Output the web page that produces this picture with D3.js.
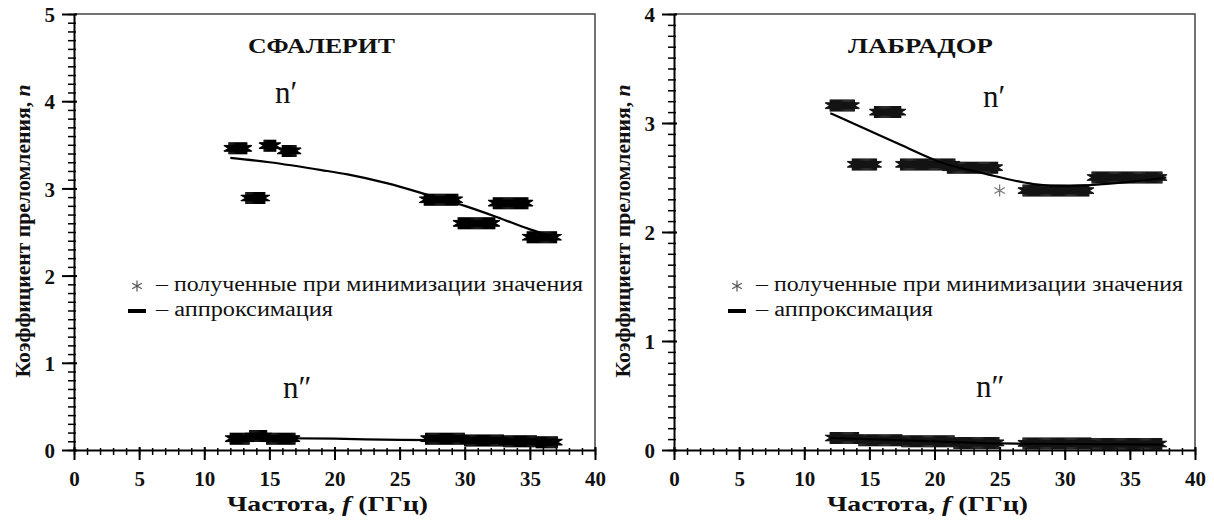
<!DOCTYPE html>
<html lang="ru">
<head>
<meta charset="UTF-8">
<script src="https://d3js.org/d3.v7.min.js"></script>
<style>
  body { margin: 0; background: #fff; }
  svg text { font-family: "Liberation Serif", "Times New Roman", serif; fill: #111; }
</style>
</head>
<body>
<div id="chart_area"></div>
<script>
// bands of minimisation results: [f start, f end, n] (GHz)
var sphRealBands = [[11.9, 13.3, 3.46], [13.2, 14.7, 2.89], [14.6, 15.5, 3.49], [16.0, 17.1, 3.43],
                    [26.9, 29.5, 2.87], [29.5, 32.3, 2.60], [32.2, 34.9, 2.83], [34.8, 37.1, 2.44]];
var sphImagBands = [[12.0, 13.5, 0.13], [13.5, 14.8, 0.16], [14.8, 17.0, 0.13],
                    [27.0, 30.0, 0.13], [30.0, 33.0, 0.11], [33.0, 35.5, 0.10], [35.5, 37.1, 0.09]];
var sphRealFitF = [12, 15, 19, 21, 24, 27.5, 30, 32.5, 35, 37];
var sphRealFitN = [3.35, 3.30, 3.21, 3.16, 3.06, 2.91, 2.80, 2.67, 2.53, 2.44];
var sphImagFitF = [12, 20, 25, 30, 37];
var sphImagFitN = [0.14, 0.13, 0.115, 0.11, 0.09];

var labRealBands = [[12.0, 13.9, 3.16], [13.7, 15.6, 2.62], [15.4, 17.4, 3.10], [17.4, 21.6, 2.62],
                    [21.0, 24.9, 2.59], [26.8, 31.9, 2.38], [32.1, 37.5, 2.50]];
var labRealSingle = [[25.0, 2.38]];
var labImagBands = [[12.0, 14.2, 0.11], [14.2, 17.5, 0.09], [17.5, 21.5, 0.08], [21.5, 25.0, 0.065],
                    [26.8, 32.0, 0.06], [32.0, 37.5, 0.055]];
var labRealFitF = [12, 14.8, 17.4, 20.7, 23.7, 27.6, 30.2, 31.9, 35, 37.8];
var labRealFitN = [3.09, 2.94, 2.80, 2.63, 2.54, 2.44, 2.42, 2.43, 2.46, 2.50];
var labImagFitF = [12, 20, 25, 30, 37.5];
var labImagFitN = [0.11, 0.08, 0.06, 0.055, 0.05];

var xTicks = [0, 5, 10, 15, 20, 25, 30, 35, 40];
var legendPoints = "– полученные при минимизации значения";
var legendFit = "– аппроксимация";

var svg = d3.select("#chart_area").append("svg")
    .attr("width", 1214).attr("height", 524);

function asterisk(r) {
  var a = r * Math.cos(Math.PI / 6), b = r * 0.5;
  return "M0," + (-r) + "V" + r + "M" + (-a) + "," + (-b) + "L" + a + "," + b +
         "M" + (-a) + "," + b + "L" + a + "," + (-b);
}

function drawPanel(p) {
  var x = d3.scaleLinear().domain([0, 40]).range([p.left, p.left + 521]);
  var y = d3.scaleLinear().domain([0, p.yMax]).range([450, 14]);
  var g = svg.append("g");

  // frame top/right
  g.append("path")
    .attr("d", "M" + x(0) + "," + y(p.yMax) + "H" + x(40) + "V" + y(0))
    .attr("fill", "none").attr("stroke", "#444").attr("stroke-width", 1.5);

  // minor ticks
  g.append("g").attr("transform", "translate(0,450)")
    .call(d3.axisBottom(x).tickValues(d3.range(0, 41, 1)).tickSize(5).tickFormat(""))
    .call(function (s) { s.select(".domain").remove(); s.selectAll("line").attr("y1", -2).attr("stroke-width", 1.5); });
  g.append("g").attr("transform", "translate(" + p.left + ",0)")
    .call(d3.axisLeft(y).tickValues(d3.range(0, p.yMax + 0.001, 0.1)).tickSize(6).tickFormat(""))
    .call(function (s) { s.select(".domain").remove(); s.selectAll("line").attr("x1", 2).attr("stroke-width", 1.5); });

  // major axes
  var xa = g.append("g").attr("transform", "translate(0,450)")
    .call(d3.axisBottom(x).tickValues(xTicks).tickSize(10).tickSizeOuter(0).tickFormat(d3.format("d")));
  var ya = g.append("g").attr("transform", "translate(" + p.left + ",0)")
    .call(d3.axisLeft(y).tickValues(d3.range(0, p.yMax + 1)).tickSize(12).tickSizeOuter(0).tickFormat(d3.format("d")));
  [xa, ya].forEach(function (a) {
    a.attr("font-family", null).attr("font-size", null);
    a.select(".domain").attr("stroke-width", 2);
    a.selectAll("line").attr("stroke-width", 2);
    a.selectAll("text").style("font-size", "21px").style("font-weight", "bold");
  });
  xa.selectAll("line").attr("y1", -3);
  xa.selectAll("text").attr("y", 36).attr("dy", null);
  ya.selectAll("line").attr("x1", 3);
  ya.selectAll("text").attr("x", -19).attr("dy", "0.37em");

  // markers
  var star = asterisk(6);
  function band(bands) {
    var pts = [];
    bands.forEach(function (b) {
      d3.range(b[0], b[1] + 1e-9, 0.08).forEach(function (f) { pts.push([f, b[2]]); });
    });
    g.append("g").selectAll("path").data(pts).enter().append("path")
      .attr("d", star)
      .attr("transform", function (d) { return "translate(" + x(d[0]) + "," + y(d[1]) + ")"; })
      .attr("fill", "none").attr("stroke", p.markColor).attr("stroke-width", 1.4);
  }
  band(p.real);
  band(p.imag);
  if (p.single) {
    g.append("g").selectAll("path").data(p.single).enter().append("path")
      .attr("d", star)
      .attr("transform", function (d) { return "translate(" + x(d[0]) + "," + y(d[1]) + ")"; })
      .attr("fill", "none").attr("stroke", "#777").attr("stroke-width", 1.2);
  }

  // fit curves
  var line = d3.line().x(function (d) { return x(d[0]); }).y(function (d) { return y(d[1]); })
    .curve(d3.curveMonotoneX);
  [[p.realFitF, p.realFitN], [p.imagFitF, p.imagFitN]].forEach(function (c) {
    g.append("path").datum(d3.zip(c[0], c[1]))
      .attr("d", line).attr("fill", "none").attr("stroke", "#000").attr("stroke-width", 2.2);
  });

  // texts
  var o = p.left - 74;
  g.append("text").attr("x", 248 + o).attr("y", 53).text(p.title)
    .style("font-size", "22px").style("font-weight", "bold")
    .attr("textLength", p.titleLen).attr("lengthAdjust", "spacingAndGlyphs");
  g.append("text").attr("x", p.nRe[0]).attr("y", p.nRe[1]).text("n′").style("font-size", "31px");
  g.append("text").attr("x", p.nIm[0]).attr("y", p.nIm[1]).text("n″").style("font-size", "31px");

  g.append("path").attr("d", asterisk(5.5)).attr("transform", "translate(" + (137 + o) + ",286)")
    .attr("fill", "none").attr("stroke", "#555").attr("stroke-width", 1.2);
  g.append("text").attr("x", 156 + o).attr("y", 291).text(legendPoints)
    .style("font-size", "20px").attr("textLength", 427).attr("lengthAdjust", "spacingAndGlyphs");
  g.append("line").attr("x1", 128 + o).attr("x2", 146 + o).attr("y1", 311).attr("y2", 311)
    .attr("stroke", "#000").attr("stroke-width", 4);
  g.append("text").attr("x", 156 + o).attr("y", 316).text(legendFit)
    .style("font-size", "20px").attr("textLength", 177).attr("lengthAdjust", "spacingAndGlyphs");

  var xt = g.append("text").attr("x", 227 + o).attr("y", 511)
    .style("font-size", "21px").style("font-weight", "bold")
    .attr("textLength", 201).attr("lengthAdjust", "spacingAndGlyphs");
  xt.append("tspan").text("Частота, ");
  xt.append("tspan").style("font-style", "italic").text("f");
  xt.append("tspan").text("  (ГГц)");

  var yt = g.append("text").attr("transform", "translate(" + (30 + o) + ",231) rotate(-90)")
    .attr("text-anchor", "middle")
    .style("font-size", "22px").style("font-weight", "bold")
    .attr("textLength", 293).attr("lengthAdjust", "spacingAndGlyphs");
  yt.append("tspan").text("Коэффициент преломления, ");
  yt.append("tspan").style("font-style", "italic").text("n");
}

drawPanel({
  left: 74, yMax: 5, title: "СФАЛЕРИТ", titleLen: 147, markColor: "#000",
  real: sphRealBands, imag: sphImagBands,
  realFitF: sphRealFitF, realFitN: sphRealFitN, imagFitF: sphImagFitF, imagFitN: sphImagFitN,
  nRe: [275, 103], nIm: [283, 398]
});
drawPanel({
  left: 674, yMax: 4, title: "ЛАБРАДОР", titleLen: 145, markColor: "#151515",
  real: labRealBands, imag: labImagBands, single: labRealSingle,
  realFitF: labRealFitF, realFitN: labRealFitN, imagFitF: labImagFitF, imagFitN: labImagFitN,
  nRe: [983, 107], nIm: [976, 397]
});
</script>
</body>
</html>
